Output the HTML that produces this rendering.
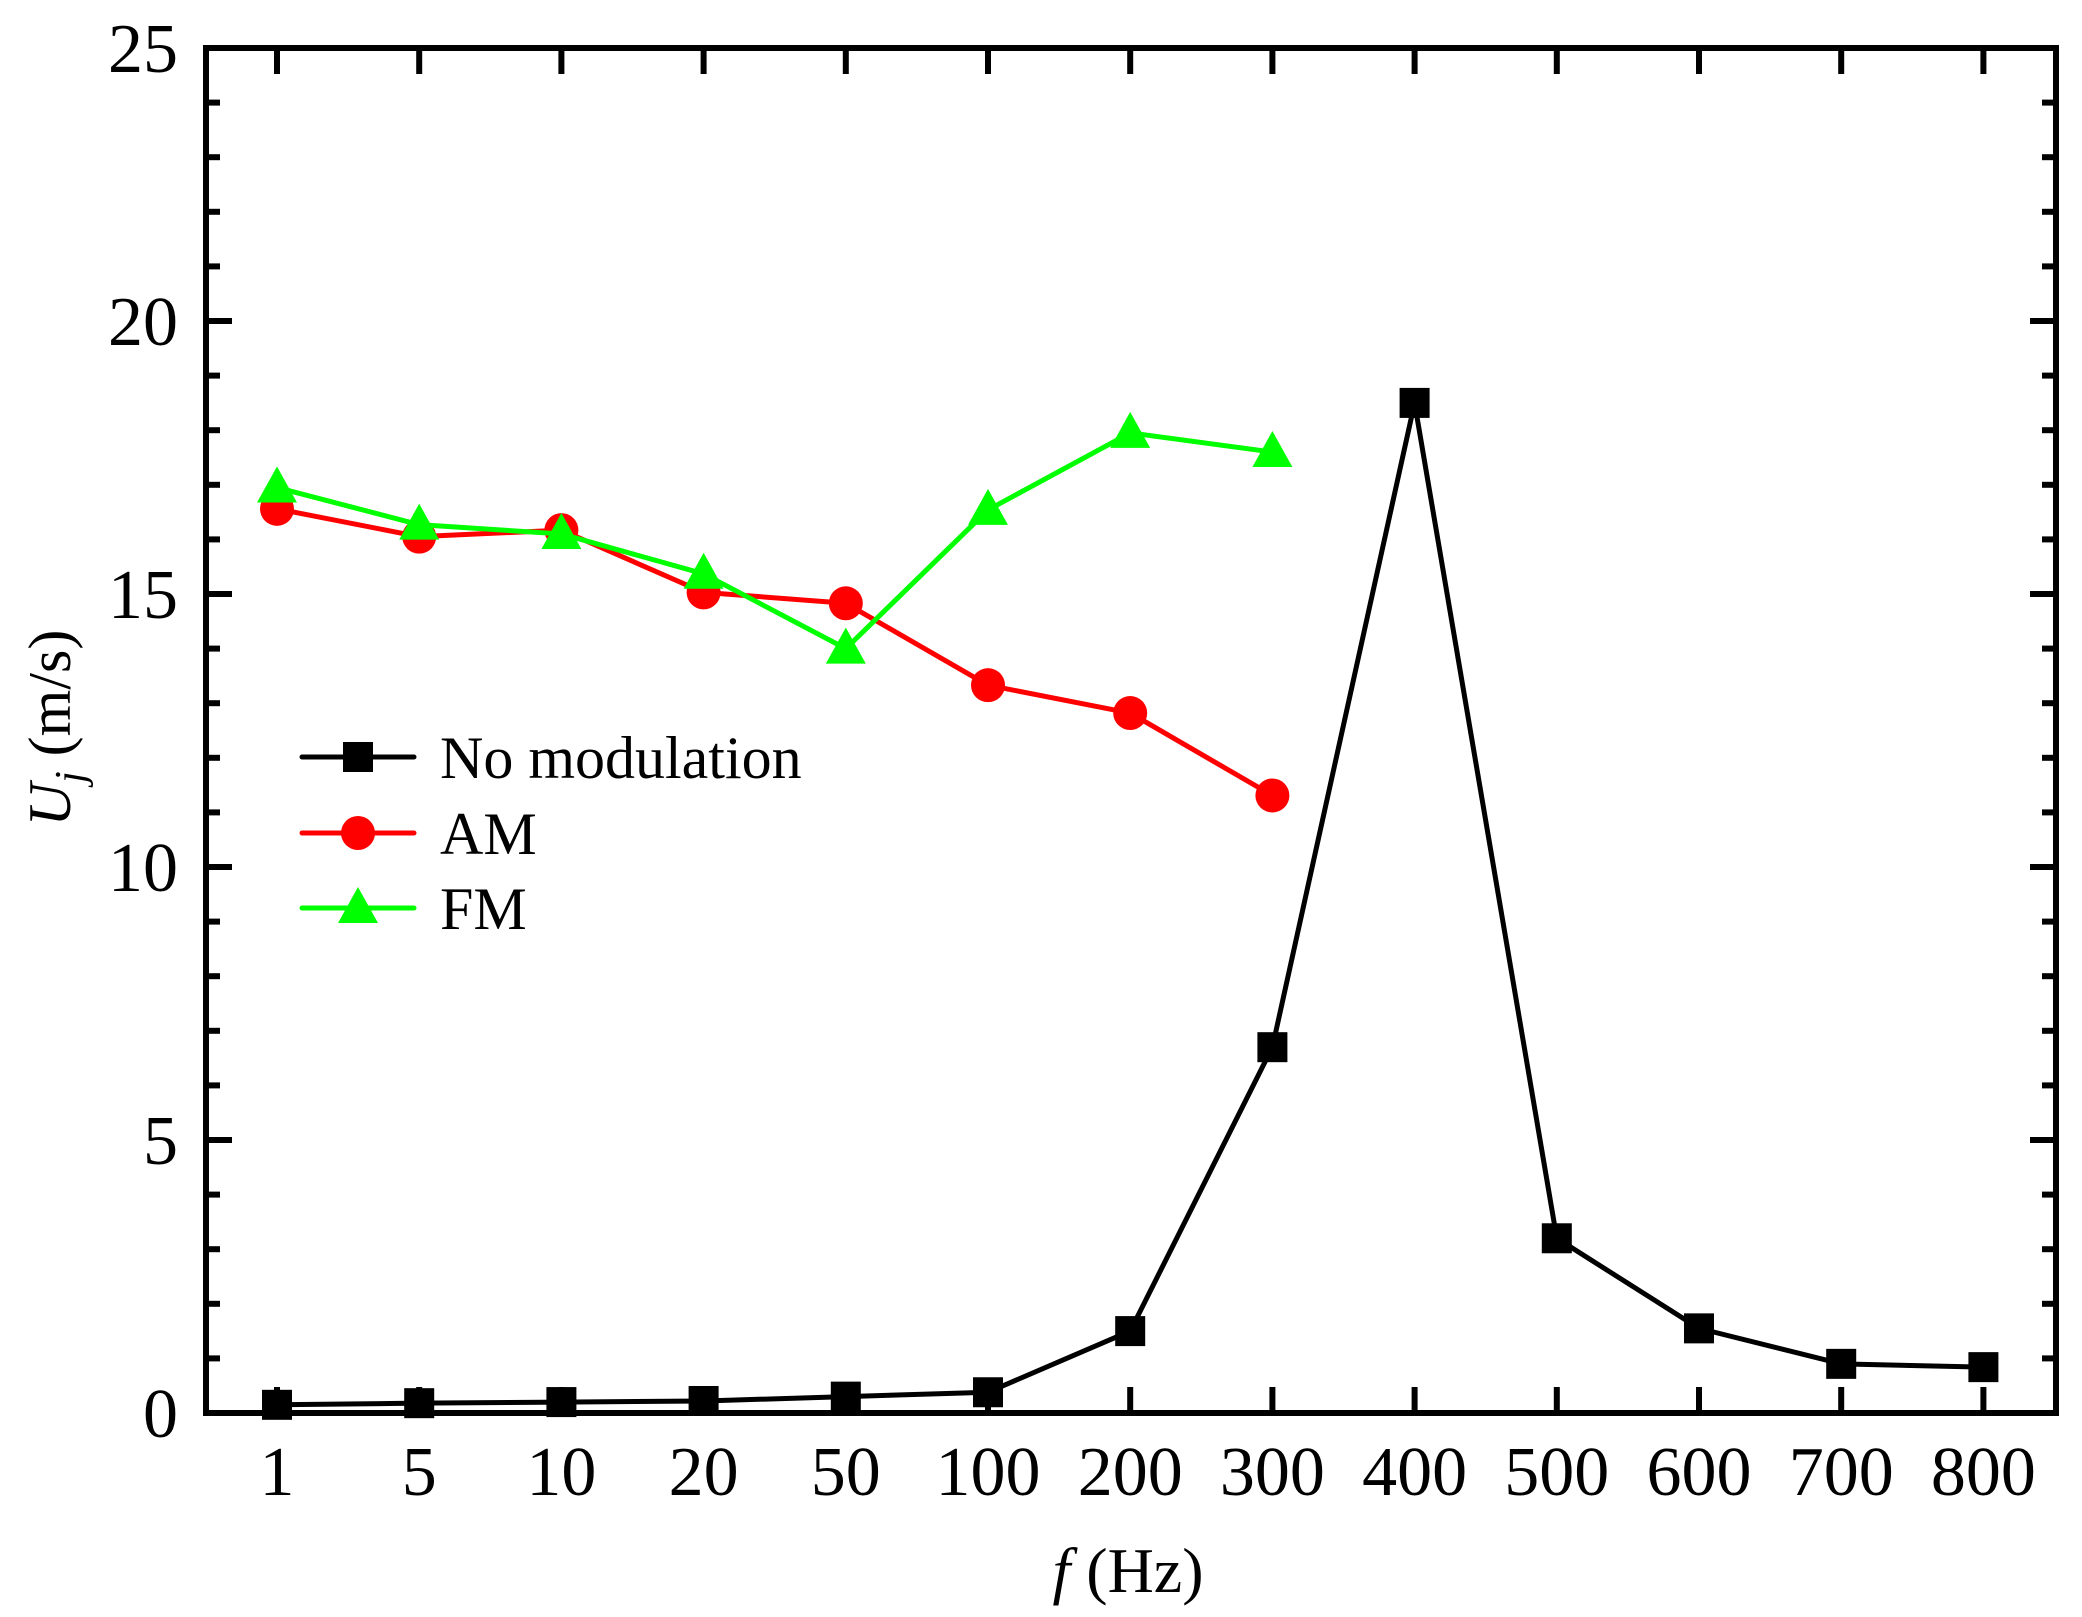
<!DOCTYPE html>
<html><head><meta charset="utf-8"><style>
html,body{margin:0;padding:0;background:#fff}
svg text{font-family:"Liberation Serif",serif;fill:#000}
</style></head><body>
<svg id="chart" width="2082" height="1612" xmlns="http://www.w3.org/2000/svg">
<g id="axes"></g>
<g id="series"></g>
<g id="legend"></g>
<text x="1128" y="1592" text-anchor="middle" font-size="64"><tspan font-style="italic">f</tspan> (Hz)</text>
<text transform="translate(70,728) rotate(-90)" text-anchor="middle" font-size="60"><tspan font-style="italic">U</tspan><tspan font-style="italic" font-size="42" dy="14">j</tspan><tspan dy="-14"> (m/s)</tspan></text>
</svg>
<script>
const categories = ["1","5","10","20","50","100","200","300","400","500","600","700","800"];
const noModulation = [0.15,0.18,0.2,0.22,0.3,0.38,1.5,6.7,18.5,3.2,1.55,0.9,0.84];
const amValues = [16.56,16.05,16.17,15.03,14.83,13.33,12.82,11.31];
const fmValues = [16.95,16.27,16.1,15.37,14.0,16.54,17.95,17.6];
const yTicks = [0,5,10,15,20,25];

const L=206,R=2056,T=48,B=1413,X0=277,DX=142.2,YMAX=25;
const xs=i=>X0+DX*i;
const ys=v=>B-(B-T)*v/YMAX;
const NS="http://www.w3.org/2000/svg";
function mk(tag,attrs,parent){const e=document.createElementNS(NS,tag);for(const k in attrs)e.setAttribute(k,attrs[k]);parent.appendChild(e);return e;}
const axes=document.getElementById('axes');
const fr=mk('rect',{x:L,y:T,width:R-L,height:B-T,fill:'none',stroke:'#000','stroke-width':6},axes);


for(let v=0;v<=YMAX;v++){
  const y=ys(v),len=(v%5===0)?26:14;
  const t1=mk('line',{x1:L,x2:L+len,y1:y,y2:y,stroke:'#000','stroke-width':6},axes);
  
  
  const t2=mk('line',{x1:R,x2:R-len,y1:y,y2:y,stroke:'#000','stroke-width':6},axes);
  
  
}
yTicks.forEach(v=>{
  const t=mk('text',{x:178,y:ys(v)+24,'text-anchor':'end','font-size':70},axes);
  t.textContent=v;
  
  
});
categories.forEach((c,i)=>{
  const x=xs(i);
  const a=mk('line',{x1:x,x2:x,y1:B,y2:B-26,stroke:'#000','stroke-width':6},axes);
  
  
  const b=mk('line',{x1:x,x2:x,y1:T,y2:T+26,stroke:'#000','stroke-width':6},axes);
  
  
  const t=mk('text',{x:x,y:1495,'text-anchor':'middle','font-size':70},axes);
  t.textContent=c;
  
  
});
const ser=document.getElementById('series');
function marker(kind,x,y,color,parent){
  let m;
  if(kind==='square') m=mk('rect',{x:x-15,y:y-15,width:30,height:30,fill:color},parent);
  else if(kind==='circle') m=mk('circle',{cx:x,cy:y,r:17,fill:color},parent);
  else m=mk('polygon',{points:`${x},${y-21} ${x+20},${y+15} ${x-20},${y+15}`,fill:color},parent);
  return m;
}
function drawSeries(vals,color,kind,name){
  const g=mk('g',{},ser);
  
  
  const pl=mk('polyline',{points:vals.map((v,i)=>xs(i)+','+ys(v)).join(' '),fill:'none',stroke:color,'stroke-width':5,'stroke-linejoin':'round'},g);
  
  
  vals.forEach((v,i)=>{
    const m=marker(kind,xs(i),ys(v),color,g);
    
    
  });
}
drawSeries(noModulation,'#000','square','no-modulation');
drawSeries(amValues,'#ff0000','circle','am');
drawSeries(fmValues,'#00ff00','triangle','fm');
const lg=document.getElementById('legend');
[['No modulation','#000','square',757],['AM','#ff0000','circle',833],['FM','#00ff00','triangle',908]].forEach(([lab,col,k,y])=>{
  const g=mk('g',{},lg);
  
  
  mk('line',{x1:302,x2:414,y1:y,y2:y,stroke:col,'stroke-width':5,'stroke-linecap':'round'},g);
  marker(k,358,y,col,g);
  const t=mk('text',{x:440,y:y+21,'font-size':60},g);
  t.textContent=lab;
});
</script>
</body></html>
